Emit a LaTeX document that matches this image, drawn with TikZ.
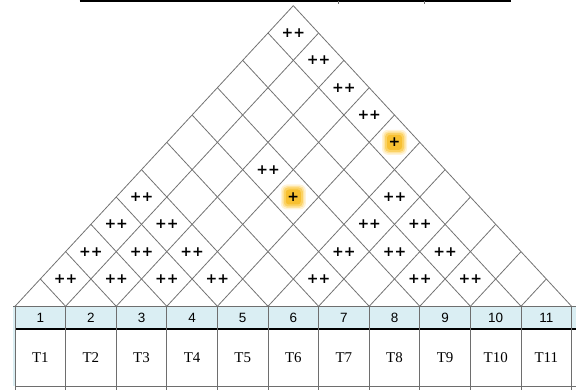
\documentclass[tikz,border=0pt]{standalone}
\usepackage{fontspec}
\setmainfont{Liberation Serif}
\newfontfamily\arialf{Liberation Sans}
\newfontfamily\plusf{DejaVu Sans}
\usetikzlibrary{calc}
\definecolor{headblue}{RGB}{218,238,243}
\definecolor{roofgray}{RGB}{115,115,115}
\definecolor{gridgray}{RGB}{110,110,110}
\definecolor{glowa}{RGB}{255,243,214}
\definecolor{glowb}{RGB}{254,228,160}
\definecolor{glowc}{RGB}{251,210,100}
\definecolor{glowd}{RGB}{247,192,50}
\begin{document}
\begin{tikzpicture}[x=1bp,y=-1bp,
  roofline/.style={draw=roofgray, line width=0.8bp},
  gridline/.style={draw=gridgray, line width=0.9bp},
  numlabel/.style={font=\arialf\fontsize{13.5}{13.5}\selectfont, inner sep=0pt},
  tlabel/.style={font=\fontsize{15}{15}\selectfont, inner sep=0pt},
  pluslabel/.style={font=\plusf\bfseries\fontsize{14}{14}\selectfont, inner sep=0pt},
  glowlayer/.style={inner sep=0pt, rounded corners=#1}]
\useasboundingbox (0,0) rectangle (576,390);
% top partial table edge
\coordinate (TL) at (79.5,1);
\coordinate (TR) at (511,1);
\coordinate (TK1) at (338,1);
\coordinate (TK2) at (424,1);
\draw[line width=1.6bp] (TL) -- (TR);
\draw[line width=0.8bp, gridgray] (TK1) -- ++(0,2.5);
\draw[line width=0.8bp, gridgray] (TK2) -- ++(0,2.5);
% table fills
\fill[headblue] (13,306.5) rectangle (576,328.5);
\fill[headblue] (13,306.5) rectangle (15.2,386);
% base coordinates
\foreach \j in {0,...,11}{
  \coordinate (B\j) at ({15+50.6*\j},306.3);
  \coordinate (V\j) at ({15+50.6*\j},390);
}
% roof lines
\foreach \j in {0,...,10}{
  \coordinate (R\j) at ({15+50.6*\j+25.3*(11-\j)},{306.3-27.33*(11-\j)});
  \draw[roofline] (B\j) -- (R\j);
}
\foreach \j in {1,...,11}{
  \coordinate (L\j) at ({15+50.6*\j-25.3*\j},{306.3-27.33*\j});
  \draw[roofline] (B\j) -- (L\j);
}
% table lines
\coordinate (HL) at (13,306.5); \coordinate (HR) at (576,306.5);
\coordinate (ML) at (15,329.3); \coordinate (MR) at (576,329.3);
\coordinate (FL) at (15,386);   \coordinate (FR) at (576,386);
\draw[gridline] (HL) -- (HR);
\draw[line width=2bp] (ML) -- (MR);
\draw[gridline] (FL) -- (FR);
\foreach \j in {0,...,11}{
  \draw[gridline] (B\j) -- (V\j);
}
% labels
\foreach \i in {1,...,11}{
  \node[numlabel] (h\i) at ({15+50.6*(\i-0.5)},317.8) {\i};
  \node[tlabel] (t\i) at ({15+50.6*(\i-0.5)},357.5) {T\i};
}
% highlighted cells
\foreach \n/\cx/\k in {g1/7.5/6, g2/5.5/4}{
  \coordinate (\n) at ({15+50.6*\cx},{306.3-27.33*\k});
  \fill[glowa, rounded corners=6bp] ($(\n)+(-12.5,-12.5)$) rectangle ($(\n)+(12.5,12.5)$);
  \fill[glowb, rounded corners=5bp] ($(\n)+(-11,-11)$) rectangle ($(\n)+(11,11)$);
  \fill[glowc, rounded corners=4bp] ($(\n)+(-9.5,-9.5)$) rectangle ($(\n)+(9.5,9.5)$);
  \fill[glowd, rounded corners=3bp] ($(\n)+(-7.5,-7.5)$) rectangle ($(\n)+(7.5,7.5)$);
}
\node[pluslabel] (p511) at (g1) {+};
\node[pluslabel] (p48) at (g2) {+};
% correlation marks
\foreach \a/\b in {1/2,2/3,3/4,4/5,6/7,8/9,9/10,
                   1/3,2/4,3/5,6/8,7/9,8/10,
                   1/4,2/5,6/9,7/10,
                   1/5,6/10,3/8,4/11,3/11,2/11,1/11}{
  \node[pluslabel] (m\a-\b) at ({15+50.6*((\a+\b)/2-0.5)},{306.3-27.33*(\b-\a)}) {++};
}
\end{tikzpicture}
\end{document}
